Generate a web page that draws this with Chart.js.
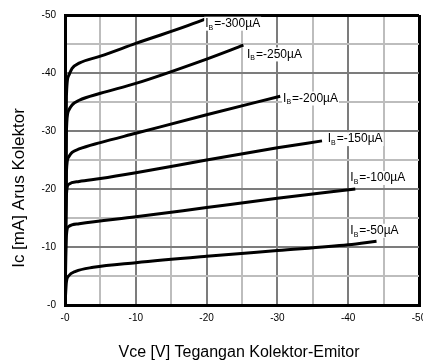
<!DOCTYPE html>
<html>
<head>
<meta charset="utf-8">
<script src="https://cdn.jsdelivr.net/npm/chart.js@4/dist/chart.umd.min.js"></script>
<style>
  html, body { margin: 0; padding: 0; background: #fff; overflow: hidden; }
  #wrap { width: 423px; height: 362px; }
</style>
</head>
<body>
<div id="wrap"><canvas id="chart" width="423" height="362"></canvas></div>
<script>
// base current of each curve (uA)
const ibValues = [-50, -100, -150, -200, -250, -300];

// Vce [V] / Ic [mA], one pair of arrays per curve
const vce50  = [0, -0.2, -0.5, -1.5, -4, -10, -20, -30, -40, -44];
const ic50   = [0, -4, -5, -5.8, -6.5, -7.3, -8.4, -9.4, -10.4, -11];
const vce100 = [0, -0.2, -0.5, -2, -10, -20, -30, -41];
const ic100  = [0, -12, -13.5, -14, -15.2, -16.8, -18.4, -20];
const vce150 = [0, -0.2, -0.5, -2, -5, -10, -20, -30, -36.3];
const ic150  = [0, -19, -20.8, -21.3, -21.8, -22.8, -25, -27.1, -28.3];
const vce200 = [0, -0.2, -0.5, -1, -2, -5, -10, -20, -30.4];
const ic200  = [0, -23, -25.5, -26.3, -26.9, -28, -29.6, -32.8, -36];
const vce250 = [0, -0.2, -0.5, -1, -2, -5, -10, -20, -25.2];
const ic250  = [0, -30, -33.5, -34.5, -35.3, -36.5, -38.2, -42.4, -44.8];
const vce300 = [0, -0.2, -0.5, -1, -2, -5, -10, -20, -21];
const ic300  = [0, -36, -39.5, -40.8, -41.7, -42.9, -45.1, -49.4, -50];

const curvesX = [vce50, vce100, vce150, vce200, vce250, vce300];
const curvesY = [ic50, ic100, ic150, ic200, ic250, ic300];

// where each Ib label sits (left edge / middle), in axis units
const labelVce = [-40.3, -40.3, -37.1, -30.8, -25.7, -19.8];
const labelIc  = [-12.8, -21.9, -28.6, -35.6, -43.2, -48.5];

const axisMin = -50, axisMax = 0;

const datasets = curvesX.map((xs, i) => ({
  label: 'Ib=' + ibValues[i] + 'µA',
  data: xs.map((x, j) => ({ x: x, y: curvesY[i][j] })),
  borderColor: '#000',
  borderWidth: 3,
  pointRadius: 0,
  fill: false,
  cubicInterpolationMode: 'monotone'
}));

function gridColor(c) {
  const v = c.tick.value;
  if (v === axisMin || v === axisMax) return '#000';
  return v % 10 === 0 ? '#7c7c7c' : '#bdbdbd';
}
function gridWidth(c) {
  const v = c.tick.value;
  return (v === axisMin || v === axisMax) ? 3 : 2;
}
function tickText(v) {
  return v % 10 === 0 ? '-' + Math.abs(v) : '';
}

const labelsPlugin = {
  id: 'ibLabels',
  afterDatasetsDraw(chart) {
    const ctx = chart.ctx;
    const xs = chart.scales.x, ys = chart.scales.y;
    ctx.save();
    ibValues.forEach((ib, i) => {
      const px = xs.getPixelForValue(labelVce[i]);
      const py = ys.getPixelForValue(labelIc[i]);
      const rest = '=' + ib + 'µA';
      ctx.font = '12px "Liberation Sans", Arial, sans-serif';
      const wI = ctx.measureText('I').width;
      const wRest = ctx.measureText(rest).width;
      ctx.font = '7px "Liberation Sans", Arial, sans-serif';
      const wB = ctx.measureText('B').width;
      const w = wI + wB + 1 + wRest;
      ctx.fillStyle = '#fff';
      ctx.fillRect(px - 1, py - 7, w + 2, 14);
      ctx.fillStyle = '#000';
      ctx.textBaseline = 'middle';
      ctx.textAlign = 'left';
      ctx.font = '12px "Liberation Sans", Arial, sans-serif';
      ctx.fillText('I', px, py);
      ctx.font = '7px "Liberation Sans", Arial, sans-serif';
      ctx.fillText('B', px + wI, py + 4);
      ctx.font = '12px "Liberation Sans", Arial, sans-serif';
      ctx.fillText(rest, px + wI + wB + 1, py);
    });
    ctx.restore();
  }
};

const titlesPlugin = {
  id: 'axisTitles',
  afterDraw(chart) {
    const ctx = chart.ctx;
    ctx.save();
    ctx.fillStyle = '#000';
    ctx.font = '16px "Liberation Sans", Arial, sans-serif';
    ctx.textAlign = 'center';
    ctx.textBaseline = 'alphabetic';
    ctx.fillText('Vce [V] Tegangan Kolektor-Emitor', 239, 357);
    ctx.font = '17px "Liberation Sans", Arial, sans-serif';
    ctx.translate(24, 188);
    ctx.rotate(-Math.PI / 2);
    ctx.fillText('Ic [mA] Arus Kolektor', 0, 0);
    ctx.restore();
  }
};

new Chart(document.getElementById('chart'), {
  type: 'line',
  data: { datasets: datasets },
  options: {
    responsive: false,
    animation: false,
    events: [],
    layout: { padding: { top: 13, right: 4, left: 0, bottom: 0 } },
    plugins: { legend: { display: false }, tooltip: { enabled: false } },
    scales: {
      x: {
        type: 'linear',
        min: axisMin, max: axisMax,
        reverse: true,
        afterFit(s) { s.height = 57; s.paddingLeft = 0; s.paddingRight = 0; },
        ticks: {
          stepSize: 5, autoSkip: false, padding: 7, color: '#000', maxRotation: 0,
          font: { family: '"Liberation Sans", Arial, sans-serif', size: 10 },
          callback: tickText
        },
        grid: { color: gridColor, lineWidth: gridWidth, drawTicks: false },
        border: { color: '#000', width: 3 }
      },
      y: {
        type: 'linear',
        min: axisMin, max: axisMax,
        reverse: true,
        afterFit(s) { s.width = 65; },
        ticks: {
          stepSize: 5, autoSkip: false, padding: 9, color: '#000',
          font: { family: '"Liberation Sans", Arial, sans-serif', size: 10 },
          callback: tickText
        },
        grid: { color: gridColor, lineWidth: gridWidth, drawTicks: false },
        border: { color: '#000', width: 3 }
      }
    }
  },
  plugins: [labelsPlugin, titlesPlugin]
});
</script>
</body>
</html>
